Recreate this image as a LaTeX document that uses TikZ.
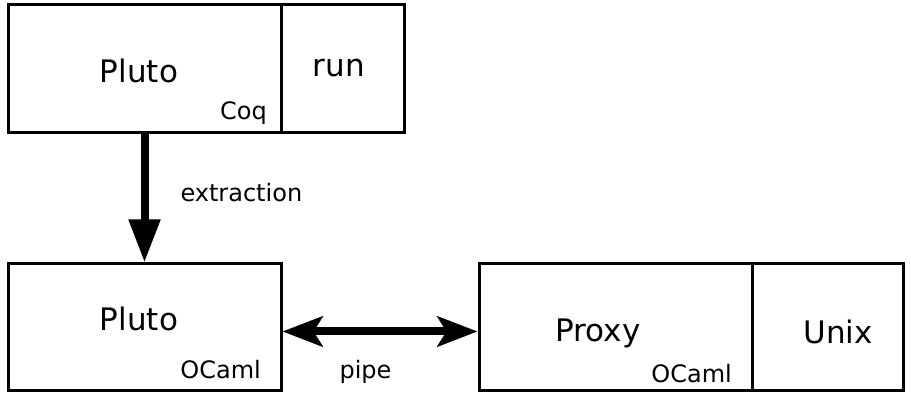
\documentclass[tikz,border=0pt]{standalone}
\usepackage{fontspec}
\setmainfont{DejaVu Sans}
\usetikzlibrary{arrows.meta}
\tikzset{block/.style={draw=black, line width=3pt, inner sep=0pt},
big/.style={font=\fontsize{31}{37}\selectfont, inner sep=0pt},
small/.style={font=\fontsize{24}{29}\selectfont, inner sep=0pt},
flow/.style={line width=8pt}}

\begin{document}
\begin{tikzpicture}[x=1pt, y=1pt]
        \useasboundingbox (0, 0) rectangle (911, 395);
        % boxes
        \node[block, minimum width=273pt, minimum height=128pt] (plutoCoq) at (144.5, 326) {};
        \node[block, minimum width=123pt, minimum height=128pt] (run) at (342.5, 326) {};
        \node[block, minimum width=273pt, minimum height=127pt] (plutoOCaml) at (144.5, 67.5) {};
        \node[block, minimum width=273pt, minimum height=127pt] (proxy) at (615.5, 67.5) {};
        \node[block, minimum width=151pt, minimum height=127pt] (unix) at (827.5, 67.5) {};
        % texts
        \node[big, anchor=base] (plutoCoqTxt) at (139, 312) {Pluto};
        \node[small, anchor=base east] (coqTxt) at (267, 275) {Coq};
        \node[big, anchor=base] (runTxt) at (339, 318) {run};
        \node[big, anchor=base] (plutoOCamlTxt) at (139, 64) {Pluto};
        \node[small, anchor=base east] (ocamlLeftTxt) at (261, 16) {OCaml};
        \node[big, anchor=base] (proxyTxt) at (598, 53) {Proxy};
        \node[small, anchor=base east] (ocamlRightTxt) at (732, 12) {OCaml};
        \node[big, anchor=base] (unixTxt) at (838, 51) {Unix};
        % arrows
        \draw[flow, -{Triangle[length=43pt, width=30pt]}] (plutoCoq.south) -- (plutoOCaml.north)
          node[small, pos=0.5, anchor=base west, xshift=32pt, yshift=-3pt] (extractionTxt) {extraction};
        \draw[flow, {Stealth[length=40pt, width=30pt, inset=9pt]}-{Stealth[length=40pt, width=30pt, inset=9pt]}]
          ([yshift=-4pt]plutoOCaml.east) -- ([yshift=-4pt]proxy.west);
        \node[small, anchor=base] (pipeTxt) at (365.5, 16) {pipe};
      \end{tikzpicture}
\end{document}
